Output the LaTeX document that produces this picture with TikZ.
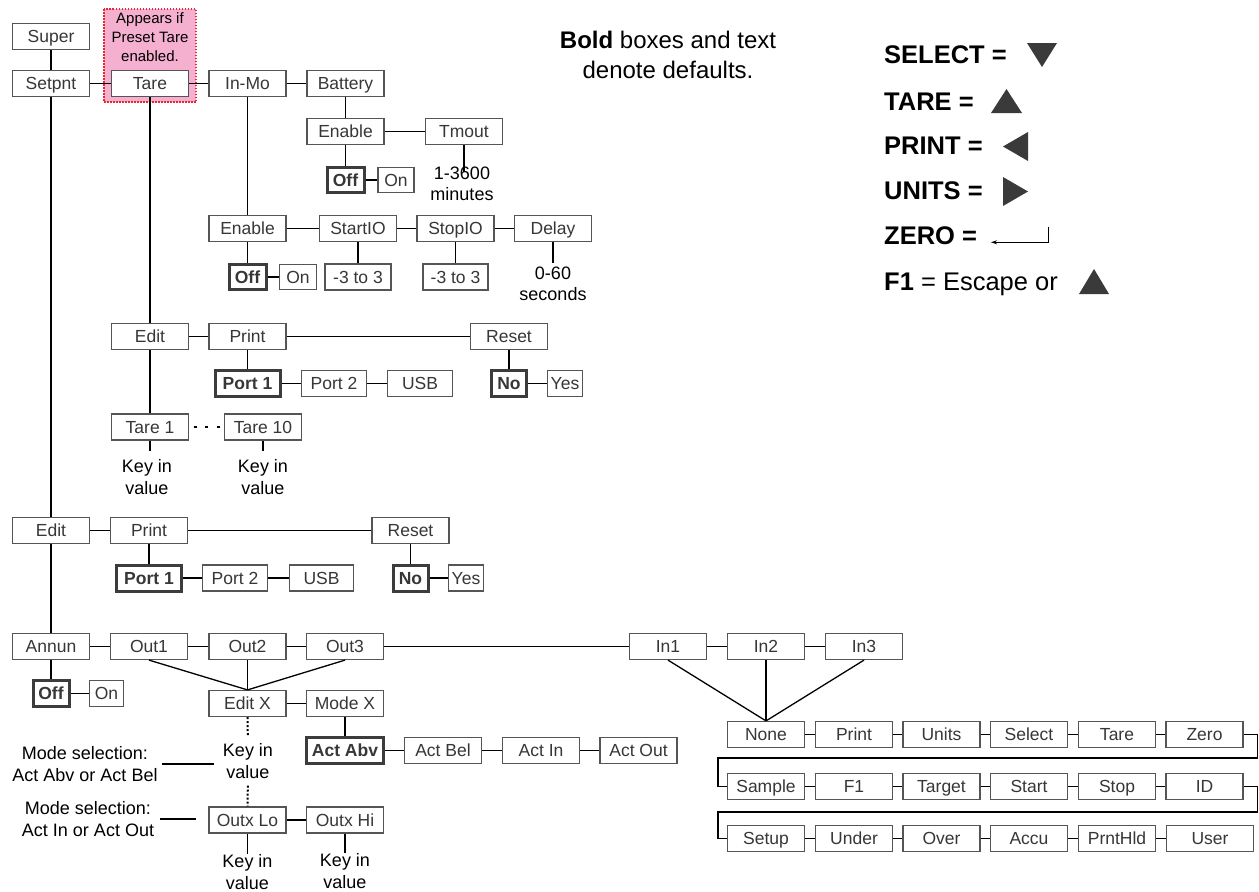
\documentclass[tikz,border=0pt]{standalone}
\usepackage{fontspec}
\setmainfont{Liberation Sans}
\definecolor{boxline}{RGB}{85,85,85}
\definecolor{boxtext}{RGB}{55,55,55}
\definecolor{defline}{RGB}{60,60,60}
\definecolor{tarepink}{RGB}{244,176,206}
\definecolor{tarered}{RGB}{232,38,48}
\definecolor{keyfill}{RGB}{58,58,58}
\usetikzlibrary{arrows.meta}
\newcommand\boxfnt{\fontsize{17.5}{20}\selectfont}
\newcommand\keyfnt{\fontsize{18}{21.5}\selectfont}
\newcommand\notefnt{\fontsize{15}{19}\selectfont}
\newcommand\legfnt{\fontsize{25.5}{30}\selectfont}
\newcommand\deffnt{\fontsize{24}{30}\selectfont}

\begin{document}
\begin{tikzpicture}[x=1pt,y=-1pt,
    box/.style={draw=boxline,fill=white,line width=1.2pt,minimum width=77pt,minimum height=26pt,
      inner sep=0pt,text height=12.5pt,text depth=0pt,text=boxtext,font=\boxfnt},
    defbox/.style={box,draw=defline,line width=3pt,font=\boxfnt\bfseries},
    link/.style={line width=1.3pt},
    dotlink/.style={line width=2pt,dash pattern=on 2pt off 2pt},
    keytxt/.style={align=center,inner sep=0pt,anchor=north,font=\keyfnt},
    legtxt/.style={anchor=base west,inner sep=0pt,font=\legfnt}]
  \useasboundingbox (0,0) rectangle (1259,892);

  % preset tare note
  \fill[tarepink] (104,9) rectangle (196,102);
  \draw[tarered,line width=1.5pt,dash pattern=on 1.5pt off 1.5pt] (104,9) rectangle (196,102);
  \node[align=center,inner sep=0pt,anchor=north,font=\notefnt] (tnote) at (150,12.8) {Appears if\\Preset Tare\\enabled.};

  % top row
  \node[box] (super) at (51,36.5) {Super};
  \node[box] (setpnt) at (51,83.5) {Setpnt};
  \node[box] (tare) at (150,83.5) {Tare};
  \node[box] (inmo) at (247.5,83.5) {In-Mo};
  \node[box] (battery) at (345.5,83.5) {Battery};

  \node[box] (benable) at (345.5,131.5) {Enable};
  \node[box] (tmout) at (464,131.5) {Tmout};
  \node[defbox,minimum width=37pt,minimum height=25pt] (boff) at (345.5,180) {Off};
  \node[box,minimum width=36pt,minimum height=25pt] (bon) at (396,180) {On};
  \node[keytxt] (tval) at (462,166.5) {1-3600\\minutes};
  \coordinate (tend) at (464,172);

  \node[box] (ienable) at (247.5,228.5) {Enable};
  \node[box] (startio) at (358,228.5) {StartIO};
  \node[box] (stopio) at (455.5,228.5) {StopIO};
  \node[box] (delay) at (553,228.5) {Delay};
  \node[defbox,minimum width=37pt,minimum height=25pt] (ioff) at (247.5,277) {Off};
  \node[box,minimum width=37pt,minimum height=25pt] (ion) at (298,277) {On};
  \node[box,minimum width=66pt] (startv) at (358,277) {-3 to 3};
  \node[box,minimum width=65pt] (stopv) at (455.5,277) {-3 to 3};
  \node[keytxt] (delayv) at (553,266.5) {0-60\\seconds};

  % tare menu
  \node[box] (tedit) at (150,336.5) {Edit};
  \node[box] (tprint) at (247.5,336.5) {Print};
  \node[box] (treset) at (509,336.5) {Reset};
  \node[defbox,minimum width=65pt] (tport1) at (247.5,383.5) {Port 1};
  \node[box,minimum width=65pt] (tport2) at (334,383.5) {Port 2};
  \node[box,minimum width=65pt] (tusb) at (420,383.5) {USB};
  \node[defbox,minimum width=35pt] (tno) at (509,383.5) {No};
  \node[box,minimum width=35pt] (tyes) at (565,383.5) {Yes};
  \node[box] (tare1) at (150,427) {Tare 1};
  \node[box] (tare10) at (263,427) {Tare 10};
  \node[keytxt] (tkey1) at (147,459.5) {Key in\\value};
  \node[keytxt] (tkey10) at (263,459.5) {Key in\\value};

  % setpoint edit
  \node[box] (sedit) at (51,530.5) {Edit};
  \node[box] (sprint) at (149,530.5) {Print};
  \node[box] (sreset) at (410.5,530.5) {Reset};
  \node[defbox,minimum width=65pt] (sport1) at (149,578) {Port 1};
  \node[box,minimum width=65pt] (sport2) at (235,578) {Port 2};
  \node[box,minimum width=64pt] (susb) at (321.5,578) {USB};
  \node[defbox,minimum width=35pt] (sno) at (410.5,578) {No};
  \node[box,minimum width=35pt] (syes) at (466,578) {Yes};

  % outputs and inputs
  \node[box] (annun) at (51,646.5) {Annun};
  \node[box] (out1) at (149,646.5) {Out1};
  \node[box] (out2) at (247.5,646.5) {Out2};
  \node[box] (out3) at (345,646.5) {Out3};
  \node[box] (in1) at (668,646.5) {In1};
  \node[box] (in2) at (766,646.5) {In2};
  \node[box] (in3) at (864,646.5) {In3};
  \node[defbox,minimum width=36pt] (aoff) at (51,693.5) {Off};
  \node[box,minimum width=34pt] (aon) at (106.5,693.5) {On};
  \node[box] (editx) at (247.5,703.5) {Edit X};
  \node[box] (modex) at (345,703.5) {Mode X};
  \node[defbox] (actabv) at (345,750.5) {Act Abv};
  \node[box] (actbel) at (443,750.5) {Act Bel};
  \node[box] (actin) at (541,750.5) {Act In};
  \node[box] (actout) at (638.5,750.5) {Act Out};
  \node[keytxt] (xkey) at (248,743.5) {Key in\\value};
  \node[box] (outxlo) at (247.5,820) {Outx Lo};
  \node[box] (outxhi) at (345,820) {Outx Hi};
  \node[keytxt] (lokey) at (247.5,854.5) {Key in\\value};
  \node[keytxt] (hikey) at (345,853.5) {Key in\\value};
  \node[keytxt] (mode1) at (85,746.5) {Mode selection:\\Act Abv or Act Bel};
  \node[keytxt] (mode2) at (88,801.5) {Mode selection:\\Act In or Act Out};

  \node[box] (inone) at (766,734.5) {None};
  \node[box] (iprint) at (854,734.5) {Print};
  \node[box] (iunits) at (941.5,734.5) {Units};
  \node[box] (iselect) at (1029,734.5) {Select};
  \node[box] (itare) at (1117,734.5) {Tare};
  \node[box] (izero) at (1204.5,734.5) {Zero};
  \node[box] (isample) at (766,786.5) {Sample};
  \node[box] (if1) at (854,786.5) {F1};
  \node[box] (itarget) at (941.5,786.5) {Target};
  \node[box] (istart) at (1029,786.5) {Start};
  \node[box] (istop) at (1117,786.5) {Stop};
  \node[box] (iid) at (1204.5,786.5) {ID};
  \node[box] (isetup) at (766,838.5) {Setup};
  \node[box] (iunder) at (854,838.5) {Under};
  \node[box] (iover) at (941.5,838.5) {Over};
  \node[box] (iaccu) at (1029,838.5) {Accu};
  \node[box] (iprnthld) at (1117,838.5) {PrntHld};
  \node[box,minimum width=87pt] (iuser) at (1210,838.5) {User};
  \coordinate (wrapa) at (718,758);
  \coordinate (wrapb) at (718,812);

  % connectors
  \draw[link] (super) -- (setpnt);
  \draw[link] (setpnt) -- (tare);
  \draw[link] (tare) -- (inmo);
  \draw[link] (inmo) -- (battery);
  \draw[link] (battery) -- (benable);
  \draw[link] (benable) -- (tmout);
  \draw[link] (benable) -- (boff);
  \draw[link] (boff) -- (bon);
  \draw[link] (tmout) -- (tend);
  \draw[link] (inmo) -- (ienable);
  \draw[link] (ienable) -- (startio);
  \draw[link] (startio) -- (stopio);
  \draw[link] (stopio) -- (delay);
  \draw[link] (ienable) -- (ioff);
  \draw[link] (ioff) -- (ion);
  \draw[link] (startio) -- (startv);
  \draw[link] (stopio) -- (stopv);
  \draw[link,shorten >=3.5pt] (delay) -- (delayv);
  \draw[link] (tare) -- (tedit);
  \draw[link] (tedit) -- (tprint);
  \draw[link] (tprint) -- (treset);
  \draw[link] (tprint) -- (tport1);
  \draw[link] (tport1) -- (tport2);
  \draw[link] (tport2) -- (tusb);
  \draw[link] (treset) -- (tno);
  \draw[link] (tno) -- (tyes);
  \draw[link] (tedit) -- (tare1);
  \draw[line width=2.5pt,dash pattern=on 3pt off 8.5pt,shorten <=4.5pt] (tare1) -- (tare10);
  \draw[link,shorten >=8.5pt] (tare1.south) -- (tare1.south |- tkey1.north);
  \draw[link,shorten >=8.5pt] (tare10) -- (tkey10);
  \draw[link] (setpnt) -- (sedit);
  \draw[link] (sedit) -- (sprint);
  \draw[link] (sprint) -- (sreset);
  \draw[link] (sprint) -- (sport1);
  \draw[link] (sport1) -- (sport2);
  \draw[link] (sport2) -- (susb);
  \draw[link] (sreset) -- (sno);
  \draw[link] (sno) -- (syes);
  \draw[link] (sedit) -- (annun);
  \draw[link] (annun) -- (out1);
  \draw[link] (out1) -- (out2);
  \draw[link] (out2) -- (out3);
  \draw[link] (out3) -- (in1);
  \draw[link] (in1) -- (in2);
  \draw[link] (in2) -- (in3);
  \draw[link] (annun) -- (aoff);
  \draw[link] (aoff) -- (aon);
  \draw[link] (out1.south) -- (editx.north);
  \draw[link] (out2) -- (editx);
  \draw[link] (out3.south) -- (editx.north);
  \draw[link] (editx) -- (modex);
  \draw[link] (modex) -- (actabv);
  \draw[link] (actabv) -- (actbel);
  \draw[link] (actbel) -- (actin);
  \draw[link] (actin) -- (actout);
  \draw[dotlink,shorten >=8.5pt] (editx) -- (xkey);
  \draw[dotlink,shorten <=7pt] (xkey) -- (outxlo);
  \draw[link] (outxlo) -- (outxhi);
  \draw[link,shorten >=0.5pt] (outxlo) -- (lokey);
  \draw[link,shorten >=0.5pt] (outxhi) -- (hikey);
  \draw[link,shorten <=4.5pt,shorten >=9pt] (mode1.east) -- (mode1.east -| xkey.west);
  \draw[link,shorten <=6pt,shorten >=12pt] (mode2.east) -- (mode2.east -| outxlo.west);
  \draw[link] (in1.south) -- (inone.north);
  \draw[link] (in2) -- (inone);
  \draw[link] (in3.south) -- (inone.north);
  \draw[link] (inone) -- (iprint);
  \draw[link] (iprint) -- (iunits);
  \draw[link] (iunits) -- (iselect);
  \draw[link] (iselect) -- (itare);
  \draw[link] (itare) -- (izero);
  \draw[link] (izero.east) -- ++(14,0) |- (wrapa) |- (isample.west);
  \draw[link] (isample) -- (if1);
  \draw[link] (if1) -- (itarget);
  \draw[link] (itarget) -- (istart);
  \draw[link] (istart) -- (istop);
  \draw[link] (istop) -- (iid);
  \draw[link] (iid.east) -- ++(14,0) |- (wrapb) |- (isetup.west);
  \draw[link] (isetup) -- (iunder);
  \draw[link] (iunder) -- (iover);
  \draw[link] (iover) -- (iaccu);
  \draw[link] (iaccu) -- (iprnthld);
  \draw[link] (iprnthld) -- (iuser);

  % legend
  \node[align=center,anchor=north,inner sep=0pt,font=\deffnt] (deftxt) at (668,31.4) {\textbf{Bold} boxes and text\\denote defaults.};
  \node[legtxt,font=\legfnt\bfseries] (kselect) at (884,63.3) {SELECT =};
  \node[legtxt,font=\legfnt\bfseries] (ktare) at (884,110.7) {TARE =};
  \node[legtxt,font=\legfnt\bfseries] (kprint) at (884,154) {PRINT =};
  \node[legtxt,font=\legfnt\bfseries] (kunits) at (884,199) {UNITS =};
  \node[legtxt,font=\legfnt\bfseries] (kzero) at (884,244) {ZERO =};
  \node[legtxt] (kf1) at (884,290) {\textbf{F1} = Escape or};
  \fill[keyfill] (1027,43) -- (1057,43) -- (1042,67) -- cycle;
  \fill[keyfill] (991,113) -- (1022,113) -- (1006.5,89) -- cycle;
  \fill[keyfill] (1028,132) -- (1028,161) -- (1003,146.5) -- cycle;
  \fill[keyfill] (1003,177) -- (1003,206) -- (1028,191.5) -- cycle;
  \draw[line width=1pt,-{Stealth[length=6pt,width=4pt]}] (1048.3,226.7) -- (1048.3,242.3) -- (991,242.3);
  \fill[keyfill] (1079,294) -- (1109,294) -- (1094,269) -- cycle;
\end{tikzpicture}
\end{document}
